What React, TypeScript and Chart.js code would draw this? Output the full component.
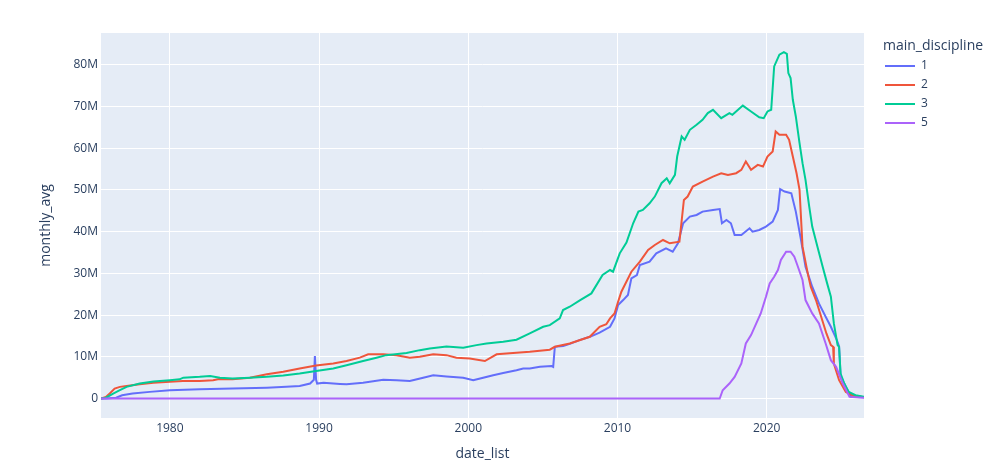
import React, { useEffect, useRef } from "react";
import { Chart, registerables } from "chart.js";

Chart.register(...registerables);

// ---- data (x in decimal years, y in millions) ----
const seriesNames = ["1", "2", "3", "5"];
const seriesColors = ["#636efa", "#EF553B", "#00cc96", "#ab63fa"];

const s1X = [1975.39, 1975.7, 1976.4, 1976.8, 1977.5, 1978.65, 1980, 1982, 1984.2, 1986.5, 1987.8, 1988.7, 1989.4, 1989.65, 1989.72, 1989.8, 1989.87, 1990.3, 1991.4, 1991.84, 1992.95, 1994.3, 1995.19, 1996.08, 1996.98, 1997.65, 1998.54, 1999.66, 2000.33, 2001, 2001.67, 2002.34, 2003.23, 2003.68, 2004.12, 2004.8, 2005.58, 2005.69, 2005.8, 2006.36, 2006.8, 2007.45, 2008.15, 2008.8, 2009.5, 2009.8, 2010.04, 2010.38, 2010.7, 2010.93, 2011.3, 2011.5, 2012.15, 2012.6, 2013.25, 2013.7, 2014.05, 2014.4, 2014.85, 2015.3, 2015.7, 2016.4, 2016.85, 2017.0, 2017.3, 2017.6, 2017.85, 2018.3, 2018.85, 2019.05, 2019.5, 2019.95, 2020.4, 2020.75, 2020.9, 2021.2, 2021.65, 2021.95, 2022.3, 2022.6, 2023.05, 2023.5, 2023.95, 2024.3, 2024.5, 2024.7, 2024.85, 2024.95, 2025.3, 2025.65, 2026.52];
const s1Y = [0, 0, 0.2, 0.8, 1.2, 1.6, 2, 2.2, 2.4, 2.6, 2.8, 3, 3.6, 4.5, 10.2, 4.5, 3.6, 3.8, 3.5, 3.4, 3.8, 4.5, 4.4, 4.2, 5, 5.6, 5.3, 5, 4.4, 5, 5.6, 6.1, 6.8, 7.2, 7.2, 7.6, 7.8, 7.6, 12.4, 12.6, 13.1, 14, 14.8, 15.8, 17.2, 19.2, 22.4, 23.6, 24.8, 28.8, 29.6, 32, 32.8, 34.8, 36, 35.2, 37.2, 42, 43.6, 44, 44.8, 45.2, 45.4, 42, 42.8, 42, 39.2, 39.2, 40.8, 40, 40.4, 41.2, 42.4, 45.2, 50.2, 49.6, 49.2, 44.8, 38, 31.6, 26.8, 22.8, 19.6, 17.2, 15.6, 14, 12.5, 5.5, 2.8, 0.4, 0.3];

const s2X = [1975.39, 1975.71, 1975.97, 1976.3, 1976.65, 1977.1, 1977.98, 1978.9, 1980, 1980.87, 1982, 1982.9, 1983.3, 1984.2, 1985.36, 1986.5, 1987.6, 1988.7, 1989.8, 1990.95, 1991.84, 1992.73, 1993.29, 1994.3, 1995.19, 1996.08, 1996.75, 1997.65, 1998.54, 1999.2, 2000.1, 2001.11, 2001.9, 2003, 2004.12, 2005.46, 2005.8, 2006.8, 2008.14, 2008.8, 2009.25, 2009.5, 2009.8, 2010.04, 2010.26, 2010.93, 2011.5, 2012.05, 2012.5, 2013.05, 2013.5, 2014.15, 2014.45, 2014.7, 2015.05, 2015.7, 2016.4, 2016.95, 2017.4, 2017.95, 2018.3, 2018.6, 2018.95, 2019.4, 2019.75, 2020.05, 2020.4, 2020.6, 2020.85, 2021.3, 2021.5, 2021.75, 2022.0, 2022.2, 2022.4, 2022.75, 2022.95, 2023.3, 2023.65, 2024.0, 2024.3, 2024.45, 2024.5, 2024.85, 2025.3, 2025.75, 2026.52];
const s2Y = [0, 0.4, 1.2, 2.4, 2.8, 3, 3.4, 3.8, 4, 4.2, 4.2, 4.4, 4.7, 4.6, 5, 5.8, 6.4, 7.2, 7.9, 8.4, 9, 9.8, 10.6, 10.6, 10.4, 9.8, 10, 10.6, 10.4, 9.8, 9.6, 9, 10.6, 10.9, 11.2, 11.7, 12.4, 13.2, 14.8, 17.2, 17.8, 19.2, 20.4, 23.2, 25.6, 30.4, 32.8, 35.6, 36.8, 38, 37.2, 37.6, 47.6, 48.4, 50.8, 52, 53.2, 54, 53.6, 54, 54.8, 56.8, 54.8, 56, 55.6, 58, 59.2, 64, 63.2, 63.2, 62, 58, 54, 50, 36.4, 30, 26.8, 23.6, 19.6, 15.6, 12.8, 12.4, 8.4, 4.4, 1.6, 0.8, 0.3];

const s3X = [1975.39, 1975.71, 1976.2, 1976.65, 1977.1, 1977.98, 1978.9, 1980, 1980.65, 1980.9, 1982, 1982.7, 1983.35, 1984.2, 1985.36, 1986.5, 1987.6, 1988.7, 1989.8, 1990.95, 1991.84, 1992.95, 1993.85, 1994.5, 1995.86, 1996.75, 1997.42, 1998.54, 1999.66, 2000.55, 2001.22, 2002.34, 2003.23, 2004.12, 2005.02, 2005.46, 2006.13, 2006.35, 2006.8, 2007.5, 2008.25, 2009.0, 2009.5, 2009.7, 2010.15, 2010.6, 2011.05, 2011.4, 2011.7, 2012.15, 2012.5, 2012.95, 2013.3, 2013.5, 2013.85, 2014.0, 2014.3, 2014.5, 2014.85, 2015.3, 2015.7, 2016.05, 2016.4, 2016.95, 2017.5, 2017.7, 2018.4, 2018.95, 2019.5, 2019.8, 2020.05, 2020.3, 2020.5, 2020.85, 2021.15, 2021.35, 2021.45, 2021.6, 2021.75, 2021.95, 2022.2, 2022.4, 2022.6, 2022.85, 2023.05, 2023.4, 2023.75, 2024.05, 2024.3, 2024.5, 2024.75, 2024.85, 2024.95, 2025.2, 2025.5, 2025.95, 2026.52];
const s3Y = [0, 0.2, 1.2, 2, 2.8, 3.6, 4.1, 4.4, 4.6, 5, 5.2, 5.4, 5, 4.8, 5, 5.2, 5.5, 6, 6.6, 7.2, 8, 9, 9.8, 10.4, 10.9, 11.6, 12, 12.5, 12.2, 12.8, 13.2, 13.6, 14.1, 15.6, 17.2, 17.6, 19.2, 21.2, 22, 23.6, 25.2, 29.6, 30.8, 30.4, 34.8, 37.4, 42, 44.8, 45.2, 46.8, 48.4, 51.6, 52.8, 51.6, 53.6, 58, 62.8, 62, 64.4, 65.6, 66.8, 68.4, 69.2, 67.2, 68.4, 68, 70.2, 68.8, 67.4, 67.2, 68.8, 69.2, 79.6, 82.4, 83, 82.6, 78, 76.8, 71.6, 67.6, 61.2, 56.4, 52.4, 46, 41.2, 36.4, 31.6, 27.6, 24.4, 18, 12.8, 12.4, 6, 3.6, 1.6, 0.8, 0.4];

const s5X = [1975.39, 2016.85, 2017.05, 2017.5, 2017.85, 2018.3, 2018.6, 2018.95, 2019.3, 2019.6, 2019.95, 2020.2, 2020.5, 2020.75, 2020.95, 2021.3, 2021.6, 2021.85, 2022.05, 2022.4, 2022.6, 2023.05, 2023.5, 2023.95, 2024.3, 2024.65, 2025.1, 2025.55, 2026.52];
const s5Y = [0, 0, 2, 3.6, 5.2, 8.4, 13.2, 15.2, 18, 20.4, 24.4, 27.6, 29.2, 30.8, 33.2, 35.2, 35.2, 34, 32, 28.4, 23.6, 20.4, 18, 13.2, 9.2, 7.6, 3.6, 0.4, 0.2];

const xTickValues = [1980, 1990, 2000, 2010, 2020];
const yTickValues = [0, 10, 20, 30, 40, 50, 60, 70, 80];

const xMin = 1975.385;
const xMax = 2026.52;
const yMin = -4.66;
const yMax = 87.6;

const xTitle = "date_list";
const yTitle = "monthly_avg";
const legendTitle = "main_discipline";

const FONT = '"Open Sans", verdana, arial, sans-serif';
const TEXT = "#2a3f5f";

const toPoints = (xs: number[], ys: number[]) => xs.map((x, i) => ({ x, y: ys[i] }));

const decorPlugin = {
  id: "decor",
  beforeDraw(chart: any) {
    const { ctx, chartArea } = chart;
    ctx.save();
    ctx.fillStyle = "#ffffff";
    ctx.fillRect(0, 0, chart.width, chart.height);
    ctx.fillStyle = "#E5ECF6";
    ctx.fillRect(chartArea.left, chartArea.top, chartArea.right - chartArea.left, chartArea.bottom - chartArea.top);
    ctx.restore();
  },
  afterDraw(chart: any) {
    const { ctx, chartArea } = chart;
    ctx.save();
    ctx.fillStyle = TEXT;
    ctx.font = `14px ${FONT}`;
    ctx.textAlign = "center";
    ctx.textBaseline = "middle";
    ctx.fillText(xTitle, (chartArea.left + chartArea.right) / 2, 454);
    ctx.save();
    ctx.translate(46, (chartArea.top + chartArea.bottom) / 2);
    ctx.rotate(-Math.PI / 2);
    ctx.fillText(yTitle, 0, 0);
    ctx.restore();
    // legend
    ctx.textAlign = "left";
    ctx.fillText(legendTitle, 883, 46.5);
    ctx.font = `12px ${FONT}`;
    chart.data.datasets.forEach((ds: any, i: number) => {
      const y = 66 + i * 19;
      ctx.strokeStyle = ds.borderColor;
      ctx.lineWidth = 2;
      ctx.beginPath();
      ctx.moveTo(885, y);
      ctx.lineTo(915, y);
      ctx.stroke();
      ctx.fillStyle = TEXT;
      ctx.fillText(ds.label, 921, y);
    });
    ctx.restore();
  },
};

export default function App() {
  const ref = useRef<HTMLCanvasElement | null>(null);
  useEffect(() => {
    document.body.style.margin = "0";
    const xs = [s1X, s2X, s3X, s5X];
    const ys = [s1Y, s2Y, s3Y, s5Y];
    const chart = new Chart(ref.current as HTMLCanvasElement, {
      type: "line",
      data: {
        datasets: seriesNames.map((name, i) => ({
          label: name,
          data: toPoints(xs[i], ys[i]),
          borderColor: seriesColors[i],
          backgroundColor: seriesColors[i],
          borderWidth: 2,
          pointRadius: 0,
          tension: 0,
          fill: false,
          order: 4 - i,
        })),
      },
      options: {
        animation: false,
        responsive: false,
        maintainAspectRatio: false,
        layout: { padding: { top: 33, right: 132, bottom: 0, left: 0 } },
        plugins: { legend: { display: false }, tooltip: { enabled: false } },
        scales: {
          x: {
            type: "linear",
            min: xMin,
            max: xMax,
            afterBuildTicks: (s: any) => { s.ticks = xTickValues.map((value) => ({ value })); },
            afterFit: (s: any) => { s.height = 52; },
            ticks: {
              padding: 3,
              maxRotation: 0,
              autoSkip: false,
              color: TEXT,
              font: { family: FONT, size: 12 },
              callback: (v: any) => String(Math.round(Number(v))),
            },
            grid: { color: "#ffffff", lineWidth: 1, drawTicks: false },
            border: { display: false },
          },
          y: {
            type: "linear",
            min: yMin,
            max: yMax,
            afterBuildTicks: (s: any) => { s.ticks = yTickValues.map((value) => ({ value })); },
            afterFit: (s: any) => { s.width = 101; },
            ticks: {
              padding: 3,
              autoSkip: false,
              color: TEXT,
              font: { family: FONT, size: 12 },
              callback: (v: any) => (Number(v) === 0 ? "0" : `${Math.round(Number(v))}M`),
            },
            grid: { color: "#ffffff", lineWidth: 1, drawTicks: false },
            border: { display: false },
          },
        },
      },
      plugins: [decorPlugin],
    });
    return () => chart.destroy();
  }, []);
  return (
    <div style={{ position: "relative", width: 996, height: 470 }}>
      <canvas ref={ref} width={996} height={470} style={{ width: 996, height: 470, display: "block" }} />
    </div>
  );
}
